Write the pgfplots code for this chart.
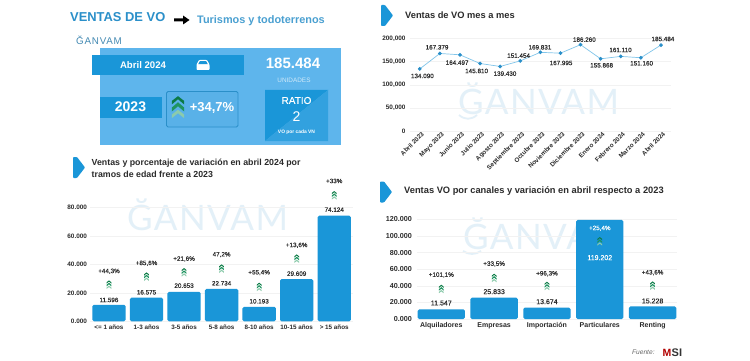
\documentclass[border=0pt]{standalone}
\usepackage{pgfplots}
\pgfplotsset{compat=1.18}
\usepackage{fontspec}
\setmainfont{Liberation Sans}
\newfontfamily\med[FakeBold=0.25]{Liberation Sans}
\newfontfamily\lite{Lato}
\definecolor{bandblue}{HTML}{1A96D8}
\definecolor{panelblue}{HTML}{5EB5EC}
\definecolor{titleblue}{HTML}{2A8FC9}
\definecolor{wm}{HTML}{E3F0F8}
\definecolor{txt}{HTML}{2B2B2B}
\definecolor{chevA}{HTML}{0B7A45}
\definecolor{chevB}{HTML}{1E9460}
\definecolor{chevC}{HTML}{8CCBAC}
\pgfdeclareplotmark{chev}{%
  \pgfsetlinewidth{0pt}%
  \pgfsetfillcolor{chevC}%
  \pgfpathmoveto{\pgfpoint{-2.8pt}{-4.6pt}}\pgfpathlineto{\pgfpoint{0pt}{-2.4pt}}\pgfpathlineto{\pgfpoint{2.8pt}{-4.6pt}}\pgfpathlineto{\pgfpoint{2.8pt}{-3.0pt}}\pgfpathlineto{\pgfpoint{0pt}{-0.8pt}}\pgfpathlineto{\pgfpoint{-2.8pt}{-3.0pt}}\pgfpathclose\pgfusepath{fill}%
  \pgfsetfillcolor{chevB}%
  \pgfpathmoveto{\pgfpoint{-2.8pt}{-1.6pt}}\pgfpathlineto{\pgfpoint{0pt}{0.8pt}}\pgfpathlineto{\pgfpoint{2.8pt}{-1.6pt}}\pgfpathlineto{\pgfpoint{2.8pt}{0.2pt}}\pgfpathlineto{\pgfpoint{0pt}{2.6pt}}\pgfpathlineto{\pgfpoint{-2.8pt}{0.2pt}}\pgfpathclose\pgfusepath{fill}%
  \pgfsetfillcolor{chevA}%
  \pgfpathmoveto{\pgfpoint{-2.8pt}{1.6pt}}\pgfpathlineto{\pgfpoint{0pt}{4.0pt}}\pgfpathlineto{\pgfpoint{2.8pt}{1.6pt}}\pgfpathlineto{\pgfpoint{2.8pt}{3.2pt}}\pgfpathlineto{\pgfpoint{0pt}{5.4pt}}\pgfpathlineto{\pgfpoint{-2.8pt}{3.2pt}}\pgfpathclose\pgfusepath{fill}%
}
\newcommand{\sectarrow}[2]{\fill[bandblue,rounded corners=0.8pt] (#1,#2) -- ++(4,0) -- ++(8,10.5) -- ++(-8,10.5) -- ++(-4,0) -- cycle;}
\newcommand{\wmark}[4]{% x, cap-centre y, size, text
  \node[anchor=west,inner sep=0,text=#4,font=\fontsize{#3}{#3}\selectfont\lite\addfontfeature{LetterSpace=4}] at (#1,#2) {ĞANVAM};}
\pgfplotstableread{
x y lab
0.13 119000 134.090
0.86 180645 167.379
1.86 147670 164.497
2.83 129750 145.810
4.24 124014 139.430
4.92 162724 151.454
5.98 180645 169.831
7.03 146953 167.995
8.19 197133 186.260
9.05 141935 155.868
9.99 174910 161.110
11.04 146237 151.160
12.10 198566 185.484
}\linelabels
\pgfplotstableread{
x val pctY pct iconY labY lab
0 11596 35088 +44,3\% 25497 14970 11.596
1 16575 40702 +85,6\% 31111 20351 16.575
2 20653 43743 +21,6\% 34152 25029 20.653
3 22734 46784 47,2\% 36725 26667 22.734
4 10193 34152 +55,4\% 23860 14035 10.193
5 29609 53333 +13,6\% 43743 33450 29.609
6 74124 98480 +33\% 88187 78363 74.124
}\agetable
\pgfplotstableread{
x val iconY
0 11547 35719
1 25833 48963
2 13674 39331
3 119202 93110
4 15228 39732
}\chantable
\pgfplotsset{
  base/.style={scale only axis,clip=false,axis line style={draw=none},
    scaled y ticks=false,
    tick style={draw=none},ymajorgrids,grid style={draw=black!5,line width=0.5pt},
    /pgf/number format/assume math mode=true,
    yticklabel style={font=\fontsize{6.4}{7}\selectfont\bfseries,text=txt,inner sep=0,xshift=-3pt},
  },
  txtlab/.style={only marks,mark=none,draw=none,point meta=explicit symbolic,
    nodes near coords,nodes near coords align={center},
    every node near coord/.style={anchor=center,inner sep=0,text=#1,font=\fontsize{6.3}{7}\selectfont\med}},
  txtlab/.default=txt,
  txtval/.style={only marks,mark=none,draw=none,point meta=explicit symbolic,
    nodes near coords,nodes near coords align={center},
    every node near coord/.style={anchor=center,inner sep=0,text=#1,font=\fontsize{7}{8}\selectfont\med}},
  txtval/.default=txt,
}
\begin{document}
\begin{tikzpicture}
\path[use as bounding box,fill=white] (0pt,0pt) rectangle (750pt,-361pt);
\begin{scope}[x=1pt,y=-1pt]
% heading
\node[anchor=west,inner sep=0,text=titleblue,font=\fontsize{12.9}{14}\selectfont\bfseries] at (70,17.5) {VENTAS DE VO};
\fill[black] (174,18.5) -- (183,18.5) -- (183,15.5) -- (189.5,20) -- (183,24.5) -- (183,21.5) -- (174,21.5) -- cycle;
\node[anchor=west,inner sep=0,text=titleblue!85!white,font=\fontsize{10.9}{12}\selectfont\bfseries] at (197,20.5) {Turismos y todoterrenos};
\node[anchor=west,inner sep=0,text=titleblue!70!gray,font=\fontsize{9.8}{11}\selectfont\addfontfeature{LetterSpace=8}] at (76,40.5) {ĞANVAM};
% panel
\fill[panelblue] (100,48) rectangle (341,145);
\fill[bandblue] (92,55) rectangle (244,75);
\node[text=white,font=\fontsize{9.6}{11}\selectfont\bfseries] at (143,65) {Abril 2024};
% car
\fill[white,rounded corners=0.8pt] (196.5,70) -- (196.5,64.5) -- (199,60) -- (207,60) -- (209.5,64.5) -- (209.5,70) -- cycle;
\fill[bandblue] (199.8,61.2) -- (206.2,61.2) -- (207.8,64.2) -- (198.2,64.2) -- cycle;
\node[text=white,font=\fontsize{15}{16}\selectfont\bfseries] at (293,63.5) {185.484};
\node[text=white!70!panelblue,font=\fontsize{6.4}{7}\selectfont] at (294,80) {UNIDADES};
\fill[bandblue] (100,97) rectangle (162,118);
\node[text=white,font=\fontsize{14}{15}\selectfont\bfseries] at (130.5,107) {2023};
\draw[draw=titleblue,line width=0.8pt,rounded corners=1.5pt,fill=panelblue!90!titleblue] (166.5,91.5) rectangle (238,127);
\begin{scope}[shift={(178,108)},scale=2.2]
\pgfuseplotmark{chev}
\end{scope}
\node[text=white,font=\fontsize{13}{14}\selectfont\bfseries] at (212,108) {+34,7\%};
\fill[bandblue] (265,90) -- (265,141) -- (328,90) -- cycle;
\fill[bandblue!65!panelblue] (265,141) -- (328,90) -- (328,141) -- cycle;
\node[text=white,font=\fontsize{10}{11}\selectfont\med] at (296.5,100.5) {RATIO};
\node[text=white,font=\fontsize{14}{15}\selectfont] at (296.5,117) {2};
\node[text=white,font=\fontsize{4.9}{5}\selectfont\bfseries] at (296.5,132) {VO por cada VN};
% section titles
\sectarrow{381}{5}
\node[anchor=west,inner sep=0,text=txt,font=\fontsize{9.3}{10}\selectfont\bfseries] at (405,15) {Ventas de VO mes a mes};
\sectarrow{73}{157}
\node[anchor=west,inner sep=0,text=txt,font=\fontsize{8.8}{10}\selectfont\bfseries] at (91.5,163) {Ventas y porcentaje de variación en abril 2024 por};
\node[anchor=west,inner sep=0,text=txt,font=\fontsize{8.8}{10}\selectfont\bfseries] at (91.5,174.5) {tramos de edad frente a 2023};
\sectarrow{380}{181.5}
\node[anchor=west,inner sep=0,text=txt,font=\fontsize{9.3}{10}\selectfont\bfseries] at (404,191.5) {Ventas VO por canales y variación en abril respecto a 2023};
% watermarks
\wmark{458}{98.5}{35}{wm}
\wmark{127}{215}{35}{wm}
\node[anchor=west,inner sep=0,text=wm,font=\fontsize{35}{35}\selectfont\lite\addfontfeature{LetterSpace=4}] at (463,233.5) {ĞANVA};
\draw[wm,line width=1.8pt] (459,115) .. controls (465,120) and (471,120) .. (477,115);
\draw[wm,line width=1.8pt] (463,251) .. controls (469,255) and (475,255) .. (481,251);
% source
\node[anchor=west,inner sep=0,text=black!60,font=\fontsize{6.6}{7}\selectfont\itshape] at (632,352.5) {Fuente:};
\node[anchor=west,inner sep=0,text=red!70!black,font=\fontsize{10.5}{11}\selectfont\bfseries] at (662.5,352.5) {M};
\node[anchor=west,inner sep=0,text=black!80,font=\fontsize{11}{11}\selectfont\bfseries] at (671.5,352.5) {SI};
\end{scope}

% line chart
\begin{axis}[base,at={(409.7pt,-131.3pt)},anchor=south west,width=261.3pt,height=93pt,
  xmin=-0.5,xmax=12.5,ymin=0,ymax=200000,
  ytick={0,50000,100000,150000,200000},yticklabels={0,{50,000},{100,000},{150,000},{200,000}},
  xtick={0,...,12},
  xticklabels={Abril 2023,Mayo 2023,Junio 2023,Julio 2023,Agosto 2023,Septiembre 2023,Octubre 2023,Noviembre 2023,Diciembre 2023,Enero 2024,Febrero 2024,Marzo 2024,Abril 2024},
  xticklabel style={rotate=45,anchor=north east,inner sep=0,font=\fontsize{6.3}{7}\selectfont\bfseries,text=txt,xshift=1pt,yshift=-1pt},
  yticklabel style={xshift=-1pt},
]
\addplot[color=bandblue!55!white,line width=0.7pt,mark=*,mark size=1.5pt,mark options={fill=titleblue,draw=titleblue}] coordinates {
(0,134090)(1,167379)(2,164497)(3,145810)(4,139430)(5,151454)(6,169831)(7,167995)(8,186260)(9,155868)(10,161110)(11,158160)(12,185484)};
\addplot[txtlab] table[x=x,y=y,meta=lab] {\linelabels};
\end{axis}

% age chart
\begin{axis}[base,at={(90.2pt,-321.3pt)},anchor=south west,width=262.8pt,height=114pt,
  xmin=-0.5,xmax=6.5,ymin=0,ymax=80000,
  ytick={0,20000,40000,60000,80000},yticklabels={0.000,20.000,40.000,60.000,80.000},
  xtick={0,...,6},xticklabels={<= 1 años,1-3 años,3-5 años,5-8 años,8-10 años,10-15 años,> 15 años},
  xticklabel style={font=\fontsize{6.3}{7}\selectfont\bfseries,text=txt,inner sep=0,yshift=-3pt},
]
\addplot[ybar,bar width=33.3pt,fill=bandblue,draw=none,rounded corners=1.5pt] table[x=x,y=val] {\agetable};
\addplot[txtlab] table[x=x,y=labY,meta=lab] {\agetable};
\addplot[txtlab] table[x=x,y=pctY,meta=pct] {\agetable};
\addplot[only marks,mark=chev,mark options={scale=0.85}] table[x=x,y=iconY] {\agetable};
\end{axis}

% channel chart
\begin{axis}[base,at={(417pt,-319pt)},anchor=south west,width=259.9pt,height=99.7pt,
  xmin=-0.46,xmax=4.46,ymin=0,ymax=120000,
  ytick={0,20000,40000,60000,80000,100000,120000},yticklabels={0.000,20.000,40.000,60.000,80.000,100.000,120.000},
  xtick={0,...,4},xticklabels={Alquiladores,Empresas,Importación,Particulares,Renting},
  xticklabel style={font=\fontsize{7}{8}\selectfont\bfseries,text=txt,inner sep=0,yshift=-3.5pt},
  yticklabel style={font=\fontsize{7.2}{8}\selectfont\bfseries,xshift=-2pt},
]
\addplot[ybar,bar width=47.3pt,fill=bandblue,draw=none,rounded corners=1.5pt] table[x=x,y=val] {\chantable};
\addplot[txtval] table[x=x,y=labY,meta=lab] {
x labY lab
0 19264 11.547
1 32910 25.833
2 20870 13.674
4 21672 15.228
};
\addplot[txtval=white] table[x=x,y=labY,meta=lab] {
x labY lab
3 73846 119.202
};
\addplot[txtlab] table[x=x,y=pctY,meta=pct] {
x pctY pct
0 52977 +101,1\%
1 66221 +33,5\%
2 54582 +96,3\%
4 55786 +43,6\%
};
\addplot[txtlab=white] table[x=x,y=pctY,meta=pct] {
x pctY pct
3 109164 +25,4\%
};
\addplot[only marks,mark=chev,mark options={scale=0.85}] table[x=x,y=iconY] {\chantable};
\end{axis}
\end{tikzpicture}
\end{document}
